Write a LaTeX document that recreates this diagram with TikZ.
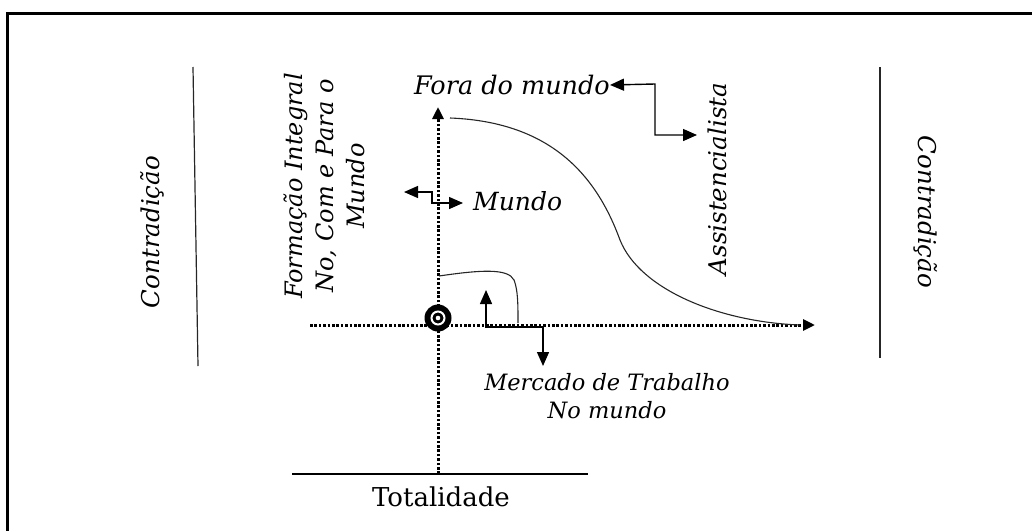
\documentclass[tikz,border=0pt]{standalone}
\usepackage{fontspec}
\setmainfont{DejaVu Serif}
\usetikzlibrary{arrows.meta}
\tikzset{
  lbl/.style={font=\fontsize{24.5}{30}\selectfont\itshape, inner sep=0pt, align=center},
  axis/.style={line width=3pt, dash pattern=on 2.6pt off 1.8pt, -{Triangle[length=12pt,width=11pt]}},
  conn/.style={line width=1.4pt},
  tip/.style={{Triangle[length=14pt,width=12pt]}-{Triangle[length=14pt,width=12pt]}},
  wall/.style={line width=1.2pt, black!85},
  curve/.style={line width=1.1pt, black!85}
}
\begin{document}
\begin{tikzpicture}[x=1pt,y=-1pt]
\useasboundingbox (0,0) rectangle (1032,530);
% frame
\draw[line width=3pt] (7,533) -- (7,13) -- (1035,13);
% walls
\draw[wall] (193,67) -- (198,366);
\draw[wall] (880,67) -- (880,358);
\node[lbl, rotate=90] (contraL) at (152,232) {Contradição};
\node[lbl, rotate=-90] (contraR) at (926,212) {Contradição};
% totalidade
\coordinate (tl) at (292,474);
\coordinate (tr) at (588,474);
\draw[line width=1.2pt] (tl) -- (tr);
\node[font=\fontsize{26}{30}\selectfont, inner sep=0pt] (total) at (441,497) {Totalidade};
% axes
\coordinate (vbot) at (438,474);
\coordinate (vtop) at (438,107);
\coordinate (hleft) at (310,325);
\coordinate (hright) at (815,325);
\draw[axis] (vbot) -- (vtop);
\draw[axis] (hleft) -- (hright);
% target
\fill (438,318) circle (13.5);
\draw[white, line width=2pt] (438,318) circle (6.5);
\fill[white] (438,318) circle (2.3);
% big curve
\coordinate (c0) at (450,118);
\coordinate (c1) at (620,240);
\coordinate (c2) at (800,325);
\draw[curve] (c0) .. controls (555,122) and (598,180) .. (c1) .. controls (640,290) and (720,322) .. (c2);
% small curve
\coordinate (s0) at (439,276);
\coordinate (s1) at (518,323);
\draw[curve] (s0) .. controls (480,270) and (508,268) .. (514,280) .. controls (518,290) and (518,305) .. (s1);
% labels
\node[lbl, font=\fontsize{25.5}{30}\selectfont\itshape, anchor=east] (fora) at (610,85) {Fora do mundo};
\node[lbl, rotate=90] (assist) at (717,179) {Assistencialista};
\node[lbl, font=\fontsize{25}{30}\selectfont\itshape, anchor=west] (mundo) at (473,201) {Mundo};
\node[lbl, font=\fontsize{24}{31}\selectfont\itshape, rotate=90] (form) at (324,186) {Formação Integral\\No, Com e Para o\\Mundo};
\node[lbl, font=\fontsize{22.5}{28}\selectfont\itshape] (merc) at (607,396) {Mercado de Trabalho\\No mundo};
% elbow arrows
\coordinate (fa) at (655,84);
\coordinate (fb) at (697,135);
\draw[conn, tip] (fora.east) -- (fa) |- (fb);
\coordinate (ma) at (404,192);
\coordinate (mb) at (463,203);
\draw[conn, tip] (ma) -| (432,203) -- (mb);
\coordinate (ua) at (486,290);
\coordinate (ub) at (543,366);
\draw[conn, tip] (ua) |- (543,327) -- (ub);
\end{tikzpicture}
\end{document}
